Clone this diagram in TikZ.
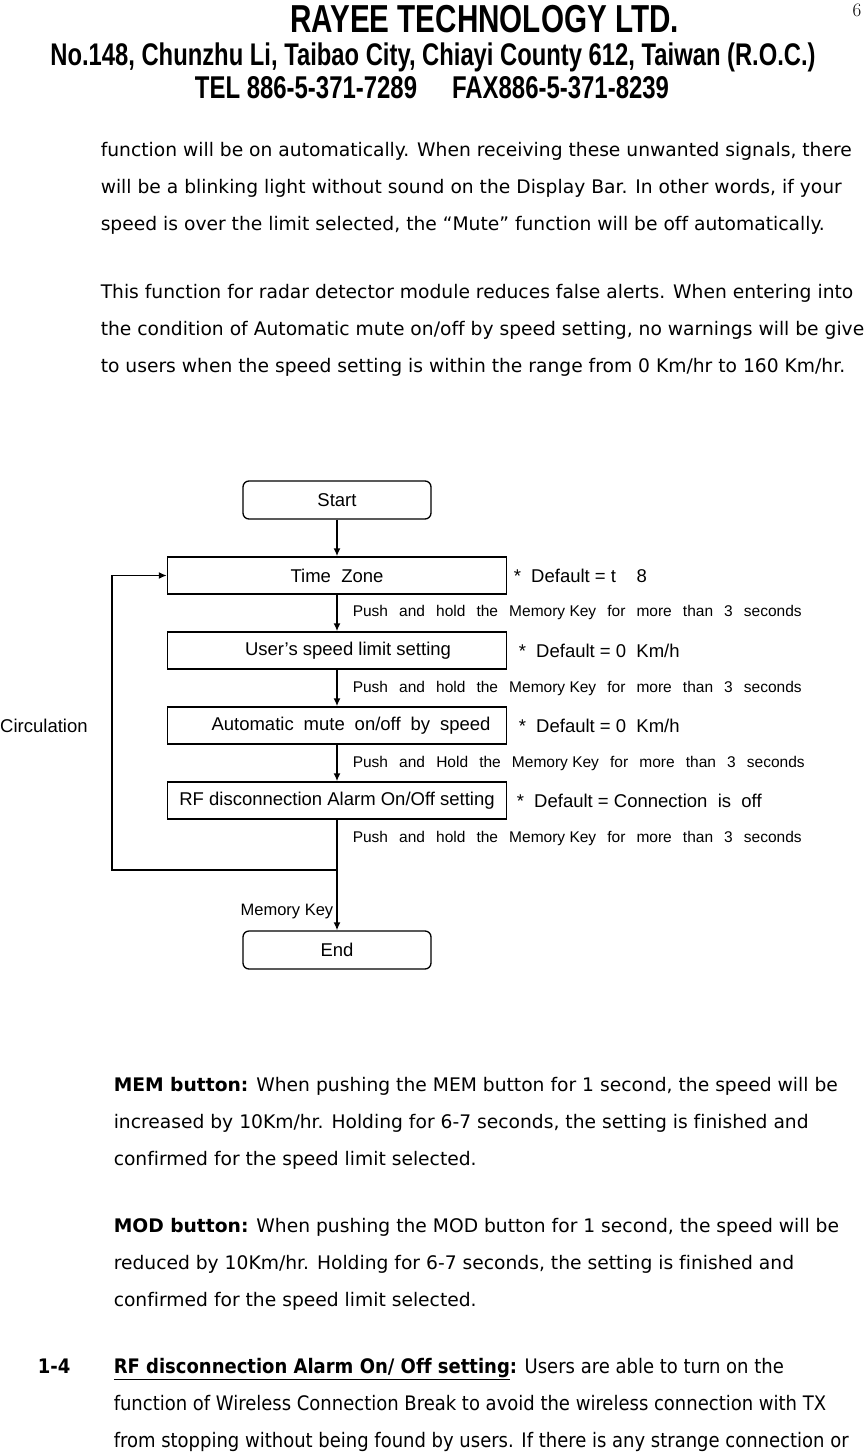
\documentclass[tikz,border=0pt]{standalone}
\usepackage{fontspec}
\newfontfamily\bodyfont[Ligatures=NoCommon]{DejaVu Sans}
\newfontfamily\condfont[Ligatures=NoCommon]{DejaVu Sans Condensed}
\newfontfamily\arialfont{Liberation Sans}
\newfontfamily\headfont[FakeStretch=0.76]{Liberation Sans}
\usetikzlibrary{positioning,arrows.meta}

\tikzset{
	stepbox/.style={draw, line width=1.5pt, minimum width=339pt, minimum height=37pt, inner sep=0pt, font=\arialfont\fontsize{18.5}{20}\selectfont},
	endbox/.style={stepbox, rounded corners=6pt, minimum width=188pt, minimum height=38pt, line width=1.3pt},
	pushlabel/.style={anchor=west, inner sep=0pt, font=\arialfont\fontsize{15.5}{17}\selectfont},
	deflabel/.style={anchor=west, inner sep=0pt, font=\arialfont\fontsize{18.5}{21}\selectfont},
	textline/.style={anchor=base west, inner sep=0pt, font=\bodyfont\fontsize{18.7}{22}\selectfont},
	headline/.style={anchor=base, inner sep=0pt}
}

\begin{document}
\begin{tikzpicture}[x=1pt, y=-1pt, >={Latex[length=8pt,width=7pt]}, line width=1.5pt]
	\useasboundingbox (0,0) rectangle (864,1453);

	% letter head
	\node[headline, font=\headfont\bfseries\fontsize{39}{40}\selectfont] (h0) at (484.5,33) {RAYEE TECHNOLOGY LTD.};
	\node[headline, font=\headfont\bfseries\fontsize{31.3}{32}\selectfont] (h1) at (433,66) {No.148, Chunzhu Li, Taibao City, Chiayi County 612, Taiwan (R.O.C.)};
	\node[headline, font=\headfont\bfseries\fontsize{31.5}{32}\selectfont] (h2) at (432,99) {TEL 886-5-371-7289\hspace{35pt}FAX886-5-371-8239};
	\node[anchor=base east, inner sep=0pt, font=\fontsize{19}{20}\selectfont] (h3) at (862,17) {6};

	% text above the chart
	\node[textline] (20) at (100,157) {function will be on automatically. When receiving these unwanted signals, there};
	\node[textline] (21) at (100,193.5) {will be a blinking light without sound on the Display Bar. In other words, if your};
	\node[textline] (22) at (100,230.5) {speed is over the limit selected, the “Mute” function will be off automatically.};
	\node[textline] (23) at (100,298.5) {This function for radar detector module reduces false alerts. When entering into};
	\node[textline] (24) at (100,335) {the condition of Automatic mute on/off by speed setting, no warnings will be given};
	\node[textline] (25) at (100,372) {to users when the speed setting is within the range from 0 Km/hr to 160 Km/hr.};

	% flow chart
	\node[endbox] (0) at (337,500) {Start};
	\node[stepbox] (1) at (337,575.5) {Time~~Zone};
	\node[stepbox] (2) at (337,650.5) {\hspace*{22pt}User’s speed limit setting};
	\node[stepbox] (3) at (337,725.5) {\hspace*{28pt}\makebox[279pt][s]{Automatic mute on/off by speed}};
	\node[stepbox] (4) at (337,800.5) {RF disconnection Alarm On/Off setting};
	\node[endbox] (5) at (337,950) {End};
	\coordinate (6) at (337,870);
	\coordinate (7) at (112,870);

	\node[deflabel] (8) at (513,576) {*~~Default = t~~~~8};
	\node[deflabel] (9) at (518,651) {*~~Default = 0~~Km/h};
	\node[deflabel] (10) at (518,726) {*~~Default = 0~~Km/h};
	\node[deflabel] (11) at (516,801) {*~~Default = Connection~~is~~off};
	\foreach \n/\y/\w/\h in {12/612/449/hold, 13/688/449/hold, 14/763/452/Hold, 15/838/449/hold}
		\node[pushlabel] (\n) at (352,\y) {\makebox[\w pt][s]{Push and \h\ the \mbox{Memory Key} for more than 3 seconds}};
	\node[anchor=west, inner sep=0pt, font=\arialfont\fontsize{18.5}{20}\selectfont] (16) at (-0.5,726) {Circulation};
	\node[anchor=east, inner sep=0pt, font=\arialfont\fontsize{16.5}{18}\selectfont] (17) at (334,912) {Memory Key};

	\draw [->] (0) to (1);
	\draw [->] (1) to (2);
	\draw [->] (2) to (3);
	\draw [->] (3) to (4);
	\draw [->] (4) to (5);
	\draw [->] (6) -- (7) |- (1.west);

	% text below the chart
	\node[textline] (26) at (113,1091) {\textbf{MEM button:} When pushing the MEM button for 1 second, the speed will be};
	\node[textline] (27) at (113,1128) {increased by 10Km/hr. Holding for 6-7 seconds, the setting is finished and};
	\node[textline] (28) at (113,1165.5) {confirmed for the speed limit selected.};
	\node[textline] (29) at (113,1232) {\textbf{MOD button:} When pushing the MOD button for 1 second, the speed will be};
	\node[textline] (30) at (113,1269) {reduced by 10Km/hr. Holding for 6-7 seconds, the setting is finished and};
	\node[textline] (31) at (113,1306) {confirmed for the speed limit selected.};
	\node[textline, font=\condfont\fontsize{20}{22}\selectfont] (32) at (37,1373) {\textbf{1-4}};
	\node[textline, font=\condfont\fontsize{20}{22}\selectfont] (33) at (113,1373) {\textbf{\underline{RF disconnection Alarm On/ Off setting}:} Users are able to turn on the};
	\node[textline, font=\condfont\fontsize{20}{22}\selectfont] (34) at (113,1410) {function of Wireless Connection Break to avoid the wireless connection with TX};
	\node[textline, font=\condfont\fontsize{20}{22}\selectfont] (35) at (113,1447) {from stopping without being found by users. If there is any strange connection or};
\end{tikzpicture}
\end{document}
